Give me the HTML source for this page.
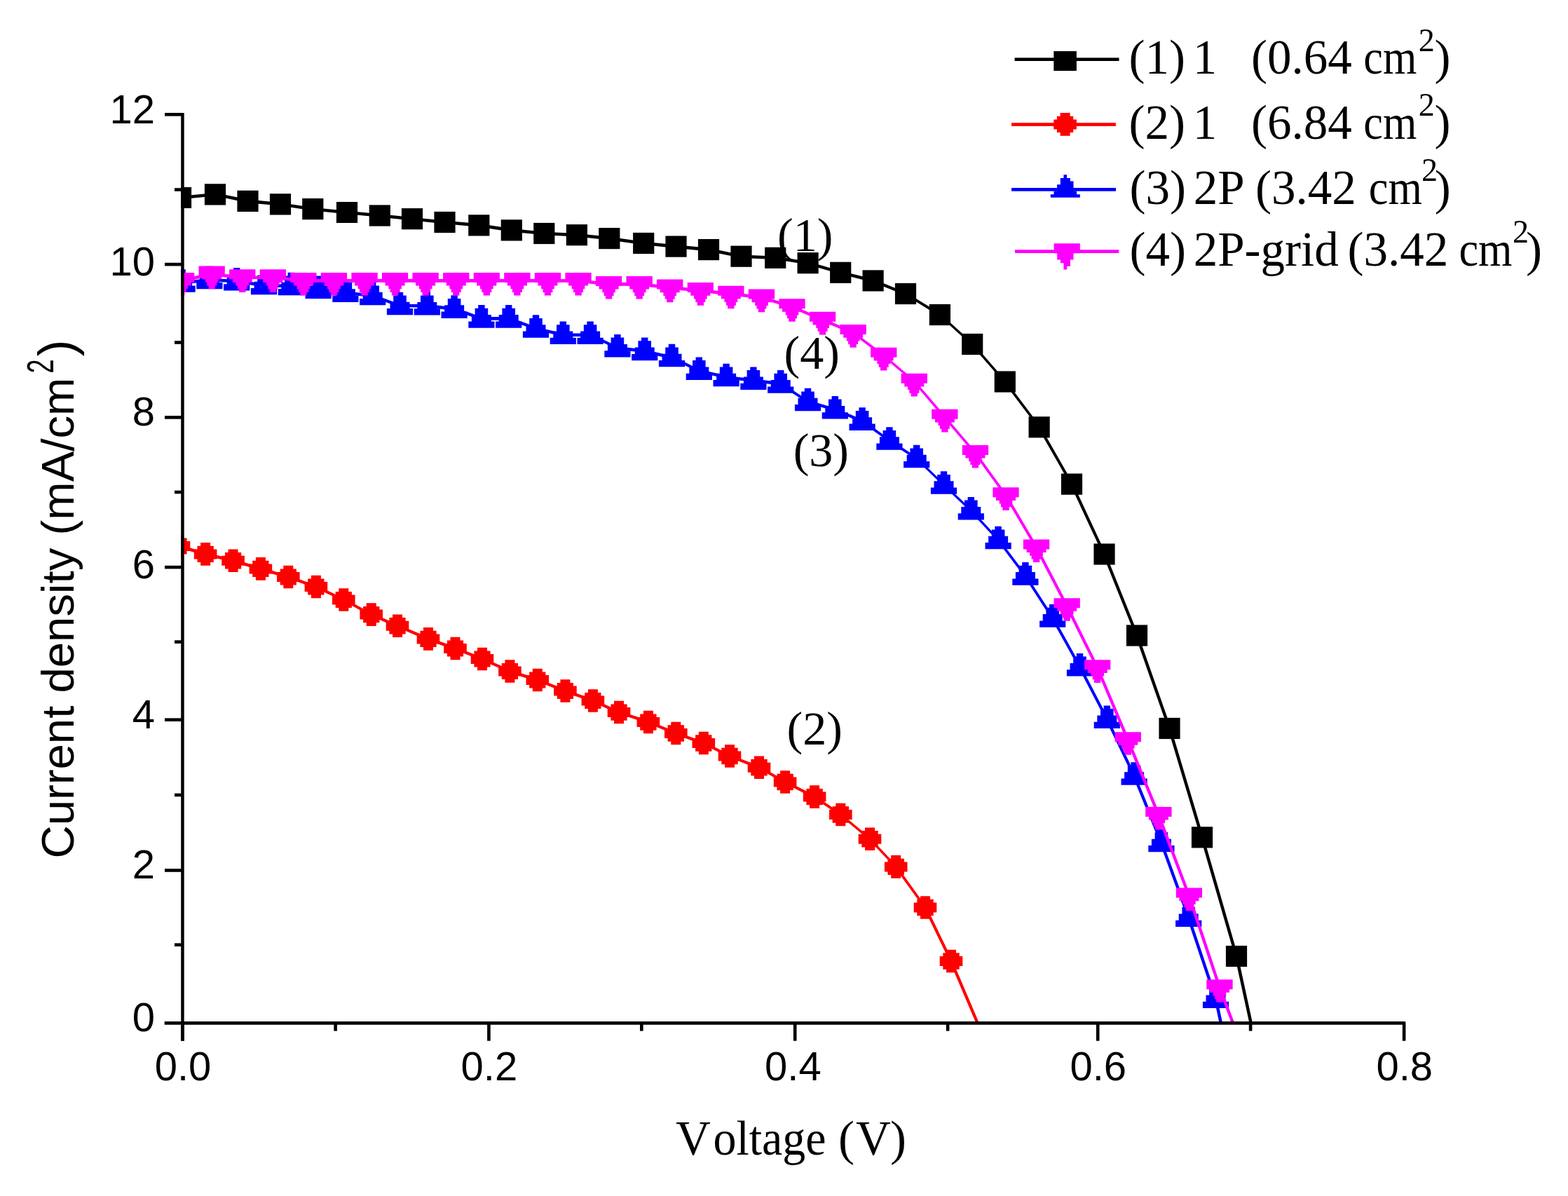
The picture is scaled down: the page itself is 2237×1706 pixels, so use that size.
<!DOCTYPE html>
<html><head><meta charset="utf-8"><title>J-V curves</title>
<style>html,body{margin:0;padding:0;background:#fff;}svg{display:block;}.ser{font-family:"Liberation Serif","Times New Roman",serif;}.san{font-family:"Liberation Sans",Arial,sans-serif;}</style>
</head><body>
<svg width="2237" height="1706" viewBox="0 0 2237 1706">
<rect width="2237" height="1706" fill="#fff"/>
<defs><clipPath id="pa"><rect x="258.2" y="150" width="1760" height="1309.4"/></clipPath></defs>
<g class="ser" font-size="68" fill="#000">
<text x="1109" y="357.9">(1)</text>
<text x="1118.6" y="525.7">(4)</text>
<text x="1131.7" y="665">(3)</text>
<text x="1122.6" y="1062">(2)</text>
</g>
<g clip-path="url(#pa)">
<path d="M258 279.7 307 275 307 279.6 258 284.3ZM307 275 353.5 284.6 353.5 289.2 307 279.6ZM353.5 284.6 400 289 400 293.6 353.5 289.2ZM400 289 446.3 295.9 446.3 300.5 400 293.6ZM446.3 295.9 495 300.7 495 305.3 446.3 300.5ZM495 300.7 541.8 305.2 541.8 309.8 495 305.3ZM541.8 305.2 588 309.9 588 314.5 541.8 309.8ZM588 309.9 634.5 314.7 634.5 319.3 588 314.5ZM634.5 314.7 683.3 319.1 683.3 323.7 634.5 319.3ZM683.3 319.1 729.8 326.1 729.8 330.7 683.3 323.7ZM729.8 326.1 776.3 330.7 776.3 335.3 729.8 330.7ZM776.3 330.7 822.9 332.9 822.9 337.5 776.3 335.3ZM822.9 332.9 869.3 337.8 869.3 342.4 822.9 337.5ZM869.3 337.8 918.2 344.7 918.2 349.3 869.3 342.4ZM918.2 344.7 964.5 349.3 964.5 353.9 918.2 349.3ZM964.5 349.3 1011 353.8 1011 358.4 964.5 353.9ZM1011 353.8 1057.5 363.4 1057.5 368 1011 358.4ZM1057.5 363.4 1106.2 365.5 1106.2 370.1 1057.5 368ZM1106.2 365.5 1152.6 372.9 1152.6 377.5 1106.2 370.1ZM1152.6 372.9 1199.2 386.5 1199.2 391.1 1152.6 377.5ZM1199.2 386.5 1245.6 398.1 1245.6 402.7 1199.2 391.1ZM1245.6 398.1 1292 416.7 1292 421.3 1245.6 402.7ZM1292 416.7 1340.9 446.7 1340.9 451.3 1292 421.3ZM1340.9 446.7 1387.2 488.7 1387.2 493.3 1340.9 451.3ZM1384.9 491 1431.5 544.5 1436.1 544.5 1389.5 491ZM1431.5 544.5 1480.3 609.3 1484.9 609.3 1436.1 544.5ZM1480.3 609.3 1526.7 690.6 1531.3 690.6 1484.9 609.3ZM1526.7 690.6 1573.2 790.5 1577.8 790.5 1531.3 690.6ZM1573.2 790.5 1619.7 906.5 1624.3 906.5 1577.8 790.5ZM1619.7 906.5 1666.2 1039 1670.8 1039 1624.3 906.5ZM1666.2 1039 1712.7 1194.4 1717.3 1194.4 1670.8 1039ZM1712.7 1194.4 1761.7 1364 1766.3 1364 1717.3 1194.4ZM1761.7 1364 1808.7 1580.7 1813.3 1580.7 1766.3 1364Z" fill="#000"/>
<g fill="#000"><polygon points="242.9,266.9 273.1,266.9 273.1,297.1 242.9,297.1"/><polygon points="291.9,262.2 322.1,262.2 322.1,292.4 291.9,292.4"/><polygon points="338.4,271.8 368.6,271.8 368.6,302 338.4,302"/><polygon points="384.9,276.2 415.1,276.2 415.1,306.4 384.9,306.4"/><polygon points="431.2,283.1 461.4,283.1 461.4,313.3 431.2,313.3"/><polygon points="479.9,287.9 510.1,287.9 510.1,318.1 479.9,318.1"/><polygon points="526.7,292.4 556.9,292.4 556.9,322.6 526.7,322.6"/><polygon points="572.9,297.1 603.1,297.1 603.1,327.3 572.9,327.3"/><polygon points="619.4,301.9 649.6,301.9 649.6,332.1 619.4,332.1"/><polygon points="668.2,306.3 698.4,306.3 698.4,336.5 668.2,336.5"/><polygon points="714.7,313.3 744.9,313.3 744.9,343.5 714.7,343.5"/><polygon points="761.2,317.9 791.4,317.9 791.4,348.1 761.2,348.1"/><polygon points="807.8,320.1 838,320.1 838,350.3 807.8,350.3"/><polygon points="854.2,325 884.4,325 884.4,355.2 854.2,355.2"/><polygon points="903.1,331.9 933.3,331.9 933.3,362.1 903.1,362.1"/><polygon points="949.4,336.5 979.6,336.5 979.6,366.7 949.4,366.7"/><polygon points="995.9,341 1026.1,341 1026.1,371.2 995.9,371.2"/><polygon points="1042.4,350.6 1072.6,350.6 1072.6,380.8 1042.4,380.8"/><polygon points="1091.1,352.7 1121.3,352.7 1121.3,382.9 1091.1,382.9"/><polygon points="1137.5,360.1 1167.7,360.1 1167.7,390.3 1137.5,390.3"/><polygon points="1184.1,373.7 1214.3,373.7 1214.3,403.9 1184.1,403.9"/><polygon points="1230.5,385.3 1260.7,385.3 1260.7,415.5 1230.5,415.5"/><polygon points="1276.9,403.9 1307.1,403.9 1307.1,434.1 1276.9,434.1"/><polygon points="1325.8,433.9 1356,433.9 1356,464.1 1325.8,464.1"/><polygon points="1372.1,475.9 1402.3,475.9 1402.3,506.1 1372.1,506.1"/><polygon points="1418.7,529.4 1448.9,529.4 1448.9,559.6 1418.7,559.6"/><polygon points="1467.5,594.2 1497.7,594.2 1497.7,624.4 1467.5,624.4"/><polygon points="1513.9,675.5 1544.1,675.5 1544.1,705.7 1513.9,705.7"/><polygon points="1560.4,775.4 1590.6,775.4 1590.6,805.6 1560.4,805.6"/><polygon points="1606.9,891.4 1637.1,891.4 1637.1,921.6 1606.9,921.6"/><polygon points="1653.4,1023.9 1683.6,1023.9 1683.6,1054.1 1653.4,1054.1"/><polygon points="1699.9,1179.3 1730.1,1179.3 1730.1,1209.5 1699.9,1209.5"/><polygon points="1748.9,1348.9 1779.1,1348.9 1779.1,1379.1 1748.9,1379.1"/></g>
<path d="M255 776.7 293.1 788.1 293.1 792.7 255 781.3ZM293.1 788.1 332.6 797.5 332.6 802.1 293.1 792.7ZM332.6 797.5 371.9 809.1 371.9 813.7 332.6 802.1ZM371.9 809.1 411.3 820.7 411.3 825.3 371.9 813.7ZM411.3 820.7 450.9 834.7 450.9 839.3 411.3 825.3ZM450.9 834.7 490.3 853.2 490.3 857.8 450.9 839.3ZM490.3 853.2 529.7 874.3 529.7 878.9 490.3 857.8ZM529.7 874.3 567 890.4 567 895 529.7 878.9ZM567 890.4 611 909.1 611 913.7 567 895ZM611 909.1 649.5 922.7 649.5 927.3 611 913.7ZM649.5 922.7 688 937.7 688 942.3 649.5 927.3ZM688 937.7 727.4 955.2 727.4 959.8 688 942.3ZM727.4 955.2 766.8 967.7 766.8 972.3 727.4 959.8ZM766.8 967.7 806.4 983.2 806.4 987.8 766.8 972.3ZM806.4 983.2 845.9 997.2 845.9 1001.8 806.4 987.8ZM845.9 997.2 883 1013.7 883 1018.3 845.9 1001.8ZM883 1013.7 924.9 1027.7 924.9 1032.3 883 1018.3ZM924.9 1027.7 964.3 1043.7 964.3 1048.3 924.9 1032.3ZM964.3 1043.7 1003.8 1057.7 1003.8 1062.3 964.3 1048.3ZM1003.8 1057.7 1041 1076.2 1041 1080.8 1003.8 1062.3ZM1041 1076.2 1083 1092.5 1083 1097.1 1041 1080.8ZM1083 1092.5 1120.1 1113.2 1120.1 1117.8 1083 1097.1ZM1120.1 1113.2 1162.1 1134.3 1162.1 1138.9 1120.1 1117.8ZM1162.1 1134.3 1199.3 1159.7 1199.3 1164.3 1162.1 1138.9ZM1199.3 1159.7 1241 1194.5 1241 1199.1 1199.3 1164.3ZM1238.7 1196.8 1275.9 1236.4 1280.5 1236.4 1243.3 1196.8ZM1275.9 1236.4 1317.7 1294.5 1322.3 1294.5 1280.5 1236.4ZM1317.7 1294.5 1354.7 1371 1359.3 1371 1322.3 1294.5ZM1354.7 1371 1394.1 1463.5 1398.7 1463.5 1359.3 1371Z" fill="#f00"/>
<g fill="#f00"><polygon points="248,762.7 262,762.7 262,767.4 266.6,767.4 266.6,772 271.3,772 271.3,786 266.6,786 266.6,790.6 262,790.6 262,795.3 248,795.3 248,790.6 243.3,790.6 243.3,786 238.7,786 238.7,772 243.3,772 243.3,767.4 248,767.4"/><polygon points="286.1,774.1 300.1,774.1 300.1,778.8 304.8,778.8 304.8,783.4 309.4,783.4 309.4,797.4 304.8,797.4 304.8,802 300.1,802 300.1,806.7 286.1,806.7 286.1,802 281.5,802 281.5,797.4 276.8,797.4 276.8,783.4 281.5,783.4 281.5,778.8 286.1,778.8"/><polygon points="325.6,783.5 339.6,783.5 339.6,788.1 344.2,788.1 344.2,792.8 348.9,792.8 348.9,806.8 344.2,806.8 344.2,811.4 339.6,811.4 339.6,816.1 325.6,816.1 325.6,811.4 321,811.4 321,806.8 316.3,806.8 316.3,792.8 321,792.8 321,788.1 325.6,788.1"/><polygon points="364.9,795.1 378.9,795.1 378.9,799.8 383.5,799.8 383.5,804.4 388.2,804.4 388.2,818.4 383.5,818.4 383.5,823 378.9,823 378.9,827.7 364.9,827.7 364.9,823 360.2,823 360.2,818.4 355.6,818.4 355.6,804.4 360.2,804.4 360.2,799.8 364.9,799.8"/><polygon points="404.3,806.7 418.3,806.7 418.3,811.4 422.9,811.4 422.9,816 427.6,816 427.6,830 422.9,830 422.9,834.6 418.3,834.6 418.3,839.3 404.3,839.3 404.3,834.6 399.7,834.6 399.7,830 395,830 395,816 399.7,816 399.7,811.4 404.3,811.4"/><polygon points="443.9,820.7 457.9,820.7 457.9,825.4 462.5,825.4 462.5,830 467.2,830 467.2,844 462.5,844 462.5,848.6 457.9,848.6 457.9,853.3 443.9,853.3 443.9,848.6 439.2,848.6 439.2,844 434.6,844 434.6,830 439.2,830 439.2,825.4 443.9,825.4"/><polygon points="483.3,839.2 497.3,839.2 497.3,843.9 501.9,843.9 501.9,848.5 506.6,848.5 506.6,862.5 501.9,862.5 501.9,867.1 497.3,867.1 497.3,871.8 483.3,871.8 483.3,867.1 478.7,867.1 478.7,862.5 474,862.5 474,848.5 478.7,848.5 478.7,843.9 483.3,843.9"/><polygon points="522.7,860.3 536.7,860.3 536.7,865 541.4,865 541.4,869.6 546,869.6 546,883.6 541.4,883.6 541.4,888.2 536.7,888.2 536.7,892.9 522.7,892.9 522.7,888.2 518.1,888.2 518.1,883.6 513.4,883.6 513.4,869.6 518.1,869.6 518.1,865 522.7,865"/><polygon points="560,876.4 574,876.4 574,881.1 578.6,881.1 578.6,885.7 583.3,885.7 583.3,899.7 578.6,899.7 578.6,904.4 574,904.4 574,909 560,909 560,904.4 555.4,904.4 555.4,899.7 550.7,899.7 550.7,885.7 555.4,885.7 555.4,881.1 560,881.1"/><polygon points="604,895.1 618,895.1 618,899.8 622.6,899.8 622.6,904.4 627.3,904.4 627.3,918.4 622.6,918.4 622.6,923 618,923 618,927.7 604,927.7 604,923 599.4,923 599.4,918.4 594.7,918.4 594.7,904.4 599.4,904.4 599.4,899.8 604,899.8"/><polygon points="642.5,908.7 656.5,908.7 656.5,913.4 661.1,913.4 661.1,918 665.8,918 665.8,932 661.1,932 661.1,936.6 656.5,936.6 656.5,941.3 642.5,941.3 642.5,936.6 637.9,936.6 637.9,932 633.2,932 633.2,918 637.9,918 637.9,913.4 642.5,913.4"/><polygon points="681,923.7 695,923.7 695,928.4 699.6,928.4 699.6,933 704.3,933 704.3,947 699.6,947 699.6,951.6 695,951.6 695,956.3 681,956.3 681,951.6 676.4,951.6 676.4,947 671.7,947 671.7,933 676.4,933 676.4,928.4 681,928.4"/><polygon points="720.4,941.2 734.4,941.2 734.4,945.9 739,945.9 739,950.5 743.7,950.5 743.7,964.5 739,964.5 739,969.1 734.4,969.1 734.4,973.8 720.4,973.8 720.4,969.1 715.8,969.1 715.8,964.5 711.1,964.5 711.1,950.5 715.8,950.5 715.8,945.9 720.4,945.9"/><polygon points="759.8,953.7 773.8,953.7 773.8,958.4 778.4,958.4 778.4,963 783.1,963 783.1,977 778.4,977 778.4,981.6 773.8,981.6 773.8,986.3 759.8,986.3 759.8,981.6 755.1,981.6 755.1,977 750.5,977 750.5,963 755.1,963 755.1,958.4 759.8,958.4"/><polygon points="799.4,969.2 813.4,969.2 813.4,973.9 818,973.9 818,978.5 822.7,978.5 822.7,992.5 818,992.5 818,997.1 813.4,997.1 813.4,1001.8 799.4,1001.8 799.4,997.1 794.8,997.1 794.8,992.5 790.1,992.5 790.1,978.5 794.8,978.5 794.8,973.9 799.4,973.9"/><polygon points="838.9,983.2 852.9,983.2 852.9,987.9 857.5,987.9 857.5,992.5 862.2,992.5 862.2,1006.5 857.5,1006.5 857.5,1011.1 852.9,1011.1 852.9,1015.8 838.9,1015.8 838.9,1011.1 834.2,1011.1 834.2,1006.5 829.6,1006.5 829.6,992.5 834.2,992.5 834.2,987.9 838.9,987.9"/><polygon points="876,999.7 890,999.7 890,1004.4 894.6,1004.4 894.6,1009 899.3,1009 899.3,1023 894.6,1023 894.6,1027.7 890,1027.7 890,1032.3 876,1032.3 876,1027.7 871.4,1027.7 871.4,1023 866.7,1023 866.7,1009 871.4,1009 871.4,1004.4 876,1004.4"/><polygon points="917.9,1013.7 931.9,1013.7 931.9,1018.4 936.5,1018.4 936.5,1023 941.2,1023 941.2,1037 936.5,1037 936.5,1041.7 931.9,1041.7 931.9,1046.3 917.9,1046.3 917.9,1041.7 913.2,1041.7 913.2,1037 908.6,1037 908.6,1023 913.2,1023 913.2,1018.4 917.9,1018.4"/><polygon points="957.3,1029.7 971.3,1029.7 971.3,1034.3 975.9,1034.3 975.9,1039 980.6,1039 980.6,1053 975.9,1053 975.9,1057.7 971.3,1057.7 971.3,1062.3 957.3,1062.3 957.3,1057.7 952.6,1057.7 952.6,1053 948,1053 948,1039 952.6,1039 952.6,1034.3 957.3,1034.3"/><polygon points="996.8,1043.7 1010.8,1043.7 1010.8,1048.3 1015.4,1048.3 1015.4,1053 1020.1,1053 1020.1,1067 1015.4,1067 1015.4,1071.7 1010.8,1071.7 1010.8,1076.3 996.8,1076.3 996.8,1071.7 992.1,1071.7 992.1,1067 987.5,1067 987.5,1053 992.1,1053 992.1,1048.3 996.8,1048.3"/><polygon points="1034,1062.2 1048,1062.2 1048,1066.8 1052.7,1066.8 1052.7,1071.5 1057.3,1071.5 1057.3,1085.5 1052.7,1085.5 1052.7,1090.2 1048,1090.2 1048,1094.8 1034,1094.8 1034,1090.2 1029.3,1090.2 1029.3,1085.5 1024.7,1085.5 1024.7,1071.5 1029.3,1071.5 1029.3,1066.8 1034,1066.8"/><polygon points="1076,1078.5 1090,1078.5 1090,1083.1 1094.7,1083.1 1094.7,1087.8 1099.3,1087.8 1099.3,1101.8 1094.7,1101.8 1094.7,1106.5 1090,1106.5 1090,1111.1 1076,1111.1 1076,1106.5 1071.3,1106.5 1071.3,1101.8 1066.7,1101.8 1066.7,1087.8 1071.3,1087.8 1071.3,1083.1 1076,1083.1"/><polygon points="1113.1,1099.2 1127.1,1099.2 1127.1,1103.8 1131.8,1103.8 1131.8,1108.5 1136.4,1108.5 1136.4,1122.5 1131.8,1122.5 1131.8,1127.2 1127.1,1127.2 1127.1,1131.8 1113.1,1131.8 1113.1,1127.2 1108.4,1127.2 1108.4,1122.5 1103.8,1122.5 1103.8,1108.5 1108.4,1108.5 1108.4,1103.8 1113.1,1103.8"/><polygon points="1155.1,1120.3 1169.1,1120.3 1169.1,1124.9 1173.8,1124.9 1173.8,1129.6 1178.4,1129.6 1178.4,1143.6 1173.8,1143.6 1173.8,1148.2 1169.1,1148.2 1169.1,1152.9 1155.1,1152.9 1155.1,1148.2 1150.4,1148.2 1150.4,1143.6 1145.8,1143.6 1145.8,1129.6 1150.4,1129.6 1150.4,1124.9 1155.1,1124.9"/><polygon points="1192.3,1145.7 1206.3,1145.7 1206.3,1150.3 1211,1150.3 1211,1155 1215.6,1155 1215.6,1169 1211,1169 1211,1173.7 1206.3,1173.7 1206.3,1178.3 1192.3,1178.3 1192.3,1173.7 1187.6,1173.7 1187.6,1169 1183,1169 1183,1155 1187.6,1155 1187.6,1150.3 1192.3,1150.3"/><polygon points="1234,1180.5 1248,1180.5 1248,1185.1 1252.7,1185.1 1252.7,1189.8 1257.3,1189.8 1257.3,1203.8 1252.7,1203.8 1252.7,1208.5 1248,1208.5 1248,1213.1 1234,1213.1 1234,1208.5 1229.3,1208.5 1229.3,1203.8 1224.7,1203.8 1224.7,1189.8 1229.3,1189.8 1229.3,1185.1 1234,1185.1"/><polygon points="1271.2,1220.1 1285.2,1220.1 1285.2,1224.8 1289.9,1224.8 1289.9,1229.4 1294.5,1229.4 1294.5,1243.4 1289.9,1243.4 1289.9,1248.1 1285.2,1248.1 1285.2,1252.7 1271.2,1252.7 1271.2,1248.1 1266.5,1248.1 1266.5,1243.4 1261.9,1243.4 1261.9,1229.4 1266.5,1229.4 1266.5,1224.8 1271.2,1224.8"/><polygon points="1313,1278.2 1327,1278.2 1327,1282.8 1331.7,1282.8 1331.7,1287.5 1336.3,1287.5 1336.3,1301.5 1331.7,1301.5 1331.7,1306.2 1327,1306.2 1327,1310.8 1313,1310.8 1313,1306.2 1308.3,1306.2 1308.3,1301.5 1303.7,1301.5 1303.7,1287.5 1308.3,1287.5 1308.3,1282.8 1313,1282.8"/><polygon points="1350,1354.7 1364,1354.7 1364,1359.3 1368.7,1359.3 1368.7,1364 1373.3,1364 1373.3,1378 1368.7,1378 1368.7,1382.7 1364,1382.7 1364,1387.3 1350,1387.3 1350,1382.7 1345.3,1382.7 1345.3,1378 1340.7,1378 1340.7,1364 1345.3,1364 1345.3,1359.3 1350,1359.3"/></g>
<path d="M260.1 401.2 298.9 396.7 298.9 401.3 260.1 405.8ZM298.9 396.7 337.7 398.9 337.7 403.5 298.9 401.3ZM337.7 398.9 376.5 404.7 376.5 409.3 337.7 403.5ZM376.5 404.7 415.3 405.7 415.3 410.3 376.5 409.3ZM415.3 405.7 454.1 410.5 454.1 415.1 415.3 410.3ZM454.1 410.5 492.9 415.3 492.9 419.9 454.1 415.1ZM492.9 415.3 531.7 419.7 531.7 424.3 492.9 419.9ZM531.7 419.7 570.5 433.7 570.5 438.3 531.7 424.3ZM570.5 433.7 609.3 433.9 609.3 438.5 570.5 438.3ZM609.3 433.9 648.1 438.3 648.1 442.9 609.3 438.5ZM648.1 438.3 686.9 452.1 686.9 456.7 648.1 442.9ZM686.9 452.1 725.7 452.1 725.7 456.7 686.9 456.7ZM725.7 452.1 764.5 466.2 764.5 470.8 725.7 456.7ZM764.5 466.2 803.3 475.5 803.3 480.1 764.5 470.8ZM803.3 475.5 842.1 475.5 842.1 480.1 803.3 480.1ZM842.1 475.5 880.9 493.9 880.9 498.5 842.1 480.1ZM880.9 493.9 919.7 498.6 919.7 503.2 880.9 498.5ZM919.7 498.6 958.5 507.7 958.5 512.3 919.7 503.2ZM958.5 507.7 997.3 526.5 997.3 531.1 958.5 512.3ZM997.3 526.5 1036.1 535.7 1036.1 540.3 997.3 531.1ZM1036.1 535.7 1074.9 540.4 1074.9 545 1036.1 540.3ZM1074.9 540.4 1113.7 545.1 1113.7 549.7 1074.9 545ZM1113.7 545.1 1152.5 570.7 1152.5 575.3 1113.7 549.7ZM1152.5 570.7 1191.3 582 1191.3 586.6 1152.5 575.3ZM1191.3 582 1230.1 598.3 1230.1 602.9 1191.3 586.6ZM1230.1 598.3 1268.9 626.2 1268.9 630.8 1230.1 602.9ZM1268.9 626.2 1307.7 651.7 1307.7 656.3 1268.9 630.8ZM1307.7 651.7 1346.5 689.2 1346.5 693.8 1307.7 656.3ZM1346.5 689.2 1385.3 726 1385.3 730.6 1346.5 693.8ZM1383 728.3 1421.8 770 1426.4 770 1387.6 728.3ZM1421.8 770 1460.6 821.4 1465.2 821.4 1426.4 770ZM1460.6 821.4 1499.4 881.4 1504 881.4 1465.2 821.4ZM1499.4 881.4 1538.2 951.2 1542.8 951.2 1504 881.4ZM1538.2 951.2 1577 1025.8 1581.6 1025.8 1542.8 951.2ZM1577 1025.8 1615.8 1106.5 1620.4 1106.5 1581.6 1025.8ZM1615.8 1106.5 1654.6 1202 1659.2 1202 1620.4 1106.5ZM1654.6 1202 1693.4 1308.7 1698 1308.7 1659.2 1202ZM1693.4 1308.7 1732.2 1424.8 1736.8 1424.8 1698 1308.7ZM1732.2 1424.8 1771 1607 1775.6 1607 1736.8 1424.8Z" fill="#00f"/>
<g fill="#00f"><polygon points="255.4,384.2 264.8,384.2 264.8,388.9 269.4,388.9 269.4,398.2 274.1,398.2 274.1,407.5 278.7,407.5 278.7,416.8 241.5,416.8 241.5,407.5 246.1,407.5 246.1,398.2 250.8,398.2 250.8,388.9 255.4,388.9"/><polygon points="294.2,379.7 303.6,379.7 303.6,384.4 308.2,384.4 308.2,393.7 312.9,393.7 312.9,403 317.5,403 317.5,412.3 280.3,412.3 280.3,403 284.9,403 284.9,393.7 289.6,393.7 289.6,384.4 294.2,384.4"/><polygon points="333,381.9 342.4,381.9 342.4,386.6 347,386.6 347,395.9 351.7,395.9 351.7,405.2 356.3,405.2 356.3,414.5 319.1,414.5 319.1,405.2 323.7,405.2 323.7,395.9 328.4,395.9 328.4,386.6 333,386.6"/><polygon points="371.8,387.7 381.2,387.7 381.2,392.4 385.8,392.4 385.8,401.7 390.5,401.7 390.5,411 395.1,411 395.1,420.3 357.9,420.3 357.9,411 362.5,411 362.5,401.7 367.2,401.7 367.2,392.4 371.8,392.4"/><polygon points="410.6,388.7 420,388.7 420,393.4 424.6,393.4 424.6,402.7 429.3,402.7 429.3,412 433.9,412 433.9,421.3 396.7,421.3 396.7,412 401.3,412 401.3,402.7 406,402.7 406,393.4 410.6,393.4"/><polygon points="449.4,393.5 458.8,393.5 458.8,398.2 463.4,398.2 463.4,407.5 468.1,407.5 468.1,416.8 472.7,416.8 472.7,426.1 435.5,426.1 435.5,416.8 440.1,416.8 440.1,407.5 444.8,407.5 444.8,398.2 449.4,398.2"/><polygon points="488.2,398.3 497.6,398.3 497.6,403 502.2,403 502.2,412.3 506.9,412.3 506.9,421.6 511.5,421.6 511.5,430.9 474.3,430.9 474.3,421.6 478.9,421.6 478.9,412.3 483.6,412.3 483.6,403 488.2,403"/><polygon points="527,402.7 536.4,402.7 536.4,407.4 541,407.4 541,416.7 545.7,416.7 545.7,426 550.3,426 550.3,435.3 513.1,435.3 513.1,426 517.7,426 517.7,416.7 522.4,416.7 522.4,407.4 527,407.4"/><polygon points="565.8,416.7 575.2,416.7 575.2,421.4 579.8,421.4 579.8,430.7 584.5,430.7 584.5,440 589.1,440 589.1,449.3 551.9,449.3 551.9,440 556.5,440 556.5,430.7 561.2,430.7 561.2,421.4 565.8,421.4"/><polygon points="604.6,416.9 614,416.9 614,421.6 618.6,421.6 618.6,430.9 623.3,430.9 623.3,440.2 627.9,440.2 627.9,449.5 590.7,449.5 590.7,440.2 595.3,440.2 595.3,430.9 600,430.9 600,421.6 604.6,421.6"/><polygon points="643.4,421.3 652.8,421.3 652.8,426 657.4,426 657.4,435.3 662.1,435.3 662.1,444.6 666.7,444.6 666.7,453.9 629.5,453.9 629.5,444.6 634.1,444.6 634.1,435.3 638.8,435.3 638.8,426 643.4,426"/><polygon points="682.2,435.1 691.6,435.1 691.6,439.8 696.2,439.8 696.2,449.1 700.9,449.1 700.9,458.4 705.5,458.4 705.5,467.7 668.3,467.7 668.3,458.4 672.9,458.4 672.9,449.1 677.6,449.1 677.6,439.8 682.2,439.8"/><polygon points="721,435.1 730.4,435.1 730.4,439.8 735,439.8 735,449.1 739.7,449.1 739.7,458.4 744.3,458.4 744.3,467.7 707.1,467.7 707.1,458.4 711.7,458.4 711.7,449.1 716.4,449.1 716.4,439.8 721,439.8"/><polygon points="759.8,449.2 769.2,449.2 769.2,453.9 773.8,453.9 773.8,463.2 778.5,463.2 778.5,472.5 783.1,472.5 783.1,481.8 745.9,481.8 745.9,472.5 750.5,472.5 750.5,463.2 755.2,463.2 755.2,453.9 759.8,453.9"/><polygon points="798.6,458.5 808,458.5 808,463.2 812.6,463.2 812.6,472.5 817.3,472.5 817.3,481.8 821.9,481.8 821.9,491.1 784.7,491.1 784.7,481.8 789.3,481.8 789.3,472.5 794,472.5 794,463.2 798.6,463.2"/><polygon points="837.4,458.5 846.8,458.5 846.8,463.2 851.4,463.2 851.4,472.5 856.1,472.5 856.1,481.8 860.7,481.8 860.7,491.1 823.5,491.1 823.5,481.8 828.1,481.8 828.1,472.5 832.8,472.5 832.8,463.2 837.4,463.2"/><polygon points="876.2,476.9 885.6,476.9 885.6,481.6 890.2,481.6 890.2,490.9 894.9,490.9 894.9,500.2 899.5,500.2 899.5,509.5 862.3,509.5 862.3,500.2 866.9,500.2 866.9,490.9 871.6,490.9 871.6,481.6 876.2,481.6"/><polygon points="915,481.6 924.4,481.6 924.4,486.2 929,486.2 929,495.6 933.7,495.6 933.7,504.9 938.3,504.9 938.3,514.2 901.1,514.2 901.1,504.9 905.7,504.9 905.7,495.6 910.4,495.6 910.4,486.2 915,486.2"/><polygon points="953.8,490.7 963.2,490.7 963.2,495.4 967.8,495.4 967.8,504.7 972.5,504.7 972.5,514 977.1,514 977.1,523.3 939.9,523.3 939.9,514 944.5,514 944.5,504.7 949.2,504.7 949.2,495.4 953.8,495.4"/><polygon points="992.6,509.5 1002,509.5 1002,514.1 1006.6,514.1 1006.6,523.5 1011.3,523.5 1011.3,532.8 1015.9,532.8 1015.9,542.1 978.7,542.1 978.7,532.8 983.3,532.8 983.3,523.5 988,523.5 988,514.1 992.6,514.1"/><polygon points="1031.4,518.7 1040.8,518.7 1040.8,523.4 1045.4,523.4 1045.4,532.7 1050.1,532.7 1050.1,542 1054.7,542 1054.7,551.3 1017.5,551.3 1017.5,542 1022.1,542 1022.1,532.7 1026.8,532.7 1026.8,523.4 1031.4,523.4"/><polygon points="1070.2,523.4 1079.6,523.4 1079.6,528.1 1084.2,528.1 1084.2,537.4 1088.9,537.4 1088.9,546.7 1093.5,546.7 1093.5,556 1056.3,556 1056.3,546.7 1060.9,546.7 1060.9,537.4 1065.6,537.4 1065.6,528.1 1070.2,528.1"/><polygon points="1109,528.1 1118.4,528.1 1118.4,532.8 1123,532.8 1123,542.1 1127.7,542.1 1127.7,551.4 1132.3,551.4 1132.3,560.7 1095.1,560.7 1095.1,551.4 1099.7,551.4 1099.7,542.1 1104.4,542.1 1104.4,532.8 1109,532.8"/><polygon points="1147.8,553.7 1157.2,553.7 1157.2,558.4 1161.8,558.4 1161.8,567.7 1166.5,567.7 1166.5,577 1171.1,577 1171.1,586.3 1133.9,586.3 1133.9,577 1138.5,577 1138.5,567.7 1143.2,567.7 1143.2,558.4 1147.8,558.4"/><polygon points="1186.6,565 1196,565 1196,569.6 1200.6,569.6 1200.6,579 1205.3,579 1205.3,588.3 1209.9,588.3 1209.9,597.6 1172.7,597.6 1172.7,588.3 1177.3,588.3 1177.3,579 1182,579 1182,569.6 1186.6,569.6"/><polygon points="1225.4,581.3 1234.8,581.3 1234.8,586 1239.4,586 1239.4,595.3 1244.1,595.3 1244.1,604.6 1248.7,604.6 1248.7,613.9 1211.5,613.9 1211.5,604.6 1216.1,604.6 1216.1,595.3 1220.8,595.3 1220.8,586 1225.4,586"/><polygon points="1264.2,609.2 1273.6,609.2 1273.6,613.9 1278.2,613.9 1278.2,623.2 1282.9,623.2 1282.9,632.5 1287.5,632.5 1287.5,641.8 1250.3,641.8 1250.3,632.5 1254.9,632.5 1254.9,623.2 1259.6,623.2 1259.6,613.9 1264.2,613.9"/><polygon points="1303,634.7 1312.4,634.7 1312.4,639.4 1317,639.4 1317,648.7 1321.7,648.7 1321.7,658 1326.3,658 1326.3,667.3 1289.1,667.3 1289.1,658 1293.7,658 1293.7,648.7 1298.4,648.7 1298.4,639.4 1303,639.4"/><polygon points="1341.8,672.2 1351.2,672.2 1351.2,676.9 1355.8,676.9 1355.8,686.2 1360.5,686.2 1360.5,695.5 1365.1,695.5 1365.1,704.8 1327.9,704.8 1327.9,695.5 1332.5,695.5 1332.5,686.2 1337.2,686.2 1337.2,676.9 1341.8,676.9"/><polygon points="1380.6,709 1390,709 1390,713.6 1394.6,713.6 1394.6,723 1399.3,723 1399.3,732.3 1403.9,732.3 1403.9,741.6 1366.7,741.6 1366.7,732.3 1371.3,732.3 1371.3,723 1376,723 1376,713.6 1380.6,713.6"/><polygon points="1419.4,750.7 1428.8,750.7 1428.8,755.4 1433.4,755.4 1433.4,764.7 1438.1,764.7 1438.1,774 1442.7,774 1442.7,783.3 1405.5,783.3 1405.5,774 1410.1,774 1410.1,764.7 1414.8,764.7 1414.8,755.4 1419.4,755.4"/><polygon points="1458.2,802.1 1467.6,802.1 1467.6,806.8 1472.2,806.8 1472.2,816.1 1476.9,816.1 1476.9,825.4 1481.5,825.4 1481.5,834.7 1444.3,834.7 1444.3,825.4 1448.9,825.4 1448.9,816.1 1453.6,816.1 1453.6,806.8 1458.2,806.8"/><polygon points="1497,862.1 1506.4,862.1 1506.4,866.8 1511,866.8 1511,876.1 1515.7,876.1 1515.7,885.4 1520.3,885.4 1520.3,894.7 1483.1,894.7 1483.1,885.4 1487.7,885.4 1487.7,876.1 1492.4,876.1 1492.4,866.8 1497,866.8"/><polygon points="1535.8,931.9 1545.2,931.9 1545.2,936.6 1549.8,936.6 1549.8,945.9 1554.5,945.9 1554.5,955.2 1559.1,955.2 1559.1,964.5 1521.9,964.5 1521.9,955.2 1526.5,955.2 1526.5,945.9 1531.2,945.9 1531.2,936.6 1535.8,936.6"/><polygon points="1574.6,1006.5 1584,1006.5 1584,1011.1 1588.6,1011.1 1588.6,1020.5 1593.3,1020.5 1593.3,1029.8 1597.9,1029.8 1597.9,1039.1 1560.7,1039.1 1560.7,1029.8 1565.3,1029.8 1565.3,1020.5 1570,1020.5 1570,1011.1 1574.6,1011.1"/><polygon points="1613.4,1087.2 1622.8,1087.2 1622.8,1091.8 1627.4,1091.8 1627.4,1101.2 1632.1,1101.2 1632.1,1110.5 1636.7,1110.5 1636.7,1119.8 1599.5,1119.8 1599.5,1110.5 1604.1,1110.5 1604.1,1101.2 1608.8,1101.2 1608.8,1091.8 1613.4,1091.8"/><polygon points="1652.2,1182.7 1661.6,1182.7 1661.6,1187.3 1666.2,1187.3 1666.2,1196.7 1670.9,1196.7 1670.9,1206 1675.5,1206 1675.5,1215.3 1638.3,1215.3 1638.3,1206 1642.9,1206 1642.9,1196.7 1647.6,1196.7 1647.6,1187.3 1652.2,1187.3"/><polygon points="1691,1289.4 1700.4,1289.4 1700.4,1294 1705,1294 1705,1303.4 1709.7,1303.4 1709.7,1312.7 1714.3,1312.7 1714.3,1322 1677.1,1322 1677.1,1312.7 1681.7,1312.7 1681.7,1303.4 1686.4,1303.4 1686.4,1294 1691,1294"/><polygon points="1729.8,1405.5 1739.2,1405.5 1739.2,1410.1 1743.8,1410.1 1743.8,1419.5 1748.5,1419.5 1748.5,1428.8 1753.1,1428.8 1753.1,1438.1 1715.9,1438.1 1715.9,1428.8 1720.5,1428.8 1720.5,1419.5 1725.2,1419.5 1725.2,1410.1 1729.8,1410.1"/></g>
<path d="M258.6 398.1 302.2 388.8 302.2 393.4 258.6 402.7ZM302.2 388.8 345.7 393.5 345.7 398.1 302.2 393.4ZM345.7 393.5 389.3 393.5 389.3 398.1 345.7 398.1ZM389.3 393.5 432.9 398.1 432.9 402.7 389.3 398.1ZM432.9 398.1 476.5 398.1 476.5 402.7 432.9 402.7ZM476.5 398.1 520 398.1 520 402.7 476.5 402.7ZM520 398.1 563.6 398.1 563.6 402.7 520 402.7ZM563.6 398.1 607.2 398.1 607.2 402.7 563.6 402.7ZM607.2 398.1 650.7 398.1 650.7 402.7 607.2 402.7ZM650.7 398.1 694.3 398.1 694.3 402.7 650.7 402.7ZM694.3 398.1 737.9 398.1 737.9 402.7 694.3 402.7ZM737.9 398.1 781.4 398.1 781.4 402.7 737.9 402.7ZM781.4 398.1 825 398.2 825 402.8 781.4 402.7ZM825 398.2 868.6 403.1 868.6 407.7 825 402.8ZM868.6 403.1 912.1 403.1 912.1 407.7 868.6 407.7ZM912.1 403.1 955.7 407.8 955.7 412.4 912.1 407.7ZM955.7 407.8 999.3 412.3 999.3 416.9 955.7 412.4ZM999.3 412.3 1042.9 416.9 1042.9 421.5 999.3 416.9ZM1042.9 416.9 1086.4 421.8 1086.4 426.4 1042.9 421.5ZM1086.4 421.8 1130 435.4 1130 440 1086.4 426.4ZM1130 435.4 1173.6 454 1173.6 458.6 1130 440ZM1173.6 454 1217.1 472.3 1217.1 476.9 1173.6 458.6ZM1217.1 472.3 1260.7 505 1260.7 509.6 1217.1 476.9ZM1260.7 505 1304.3 542 1304.3 546.6 1260.7 509.6ZM1302 544.3 1345.5 595.3 1350.2 595.3 1306.6 544.3ZM1345.5 595.3 1389.1 646.5 1393.8 646.5 1350.2 595.3ZM1389.1 646.5 1432.7 706.8 1437.3 706.8 1393.8 646.5ZM1432.7 706.8 1476.2 780.9 1480.9 780.9 1437.3 706.8ZM1476.2 780.9 1519.8 864.7 1524.5 864.7 1480.9 780.9ZM1519.8 864.7 1563.4 952.8 1568 952.8 1524.5 864.7ZM1563.4 952.8 1606.9 1055.7 1611.6 1055.7 1568 952.8ZM1606.9 1055.7 1650.5 1162.5 1655.2 1162.5 1611.6 1055.7ZM1650.5 1162.5 1694.1 1278.1 1698.7 1278.1 1655.2 1162.5ZM1694.1 1278.1 1737.7 1408.7 1742.3 1408.7 1698.7 1278.1ZM1737.7 1408.7 1781.2 1525 1785.9 1525 1742.3 1408.7Z" fill="#f0f"/>
<g fill="#f0f"><polygon points="240,388.9 277.2,388.9 277.2,402.9 272.6,402.9 272.6,407.5 267.9,407.5 267.9,412.2 265.6,412.2 265.6,416.9 263.3,416.9 263.3,421.5 253.9,421.5 253.9,416.9 251.6,416.9 251.6,412.2 249.3,412.2 249.3,407.5 244.6,407.5 244.6,402.9 240,402.9"/><polygon points="283.5,379.6 320.8,379.6 320.8,393.6 316.2,393.6 316.2,398.2 311.5,398.2 311.5,402.9 309.2,402.9 309.2,407.6 306.8,407.6 306.8,412.2 297.5,412.2 297.5,407.6 295.2,407.6 295.2,402.9 292.9,402.9 292.9,398.2 288.2,398.2 288.2,393.6 283.5,393.6"/><polygon points="327.1,384.3 364.4,384.3 364.4,398.3 359.7,398.3 359.7,402.9 355.1,402.9 355.1,407.6 352.7,407.6 352.7,412.3 350.4,412.3 350.4,416.9 341.1,416.9 341.1,412.3 338.8,412.3 338.8,407.6 336.4,407.6 336.4,402.9 331.8,402.9 331.8,398.3 327.1,398.3"/><polygon points="370.7,384.3 408,384.3 408,398.3 403.3,398.3 403.3,402.9 398.6,402.9 398.6,407.6 396.3,407.6 396.3,412.3 394,412.3 394,416.9 384.7,416.9 384.7,412.3 382.3,412.3 382.3,407.6 380,407.6 380,402.9 375.3,402.9 375.3,398.3 370.7,398.3"/><polygon points="414.2,388.9 451.5,388.9 451.5,402.9 446.9,402.9 446.9,407.5 442.2,407.5 442.2,412.2 439.9,412.2 439.9,416.9 437.5,416.9 437.5,421.5 428.2,421.5 428.2,416.9 425.9,416.9 425.9,412.2 423.6,412.2 423.6,407.5 418.9,407.5 418.9,402.9 414.2,402.9"/><polygon points="457.8,388.9 495.1,388.9 495.1,402.9 490.4,402.9 490.4,407.5 485.8,407.5 485.8,412.2 483.4,412.2 483.4,416.9 481.1,416.9 481.1,421.5 471.8,421.5 471.8,416.9 469.5,416.9 469.5,412.2 467.1,412.2 467.1,407.5 462.5,407.5 462.5,402.9 457.8,402.9"/><polygon points="501.4,388.9 538.7,388.9 538.7,402.9 534,402.9 534,407.5 529.3,407.5 529.3,412.2 527,412.2 527,416.9 524.7,416.9 524.7,421.5 515.4,421.5 515.4,416.9 513,416.9 513,412.2 510.7,412.2 510.7,407.5 506,407.5 506,402.9 501.4,402.9"/><polygon points="545,388.9 582.2,388.9 582.2,402.9 577.6,402.9 577.6,407.5 572.9,407.5 572.9,412.2 570.6,412.2 570.6,416.9 568.2,416.9 568.2,421.5 558.9,421.5 558.9,416.9 556.6,416.9 556.6,412.2 554.3,412.2 554.3,407.5 549.6,407.5 549.6,402.9 545,402.9"/><polygon points="588.5,388.9 625.8,388.9 625.8,402.9 621.1,402.9 621.1,407.5 616.5,407.5 616.5,412.2 614.2,412.2 614.2,416.9 611.8,416.9 611.8,421.5 602.5,421.5 602.5,416.9 600.2,416.9 600.2,412.2 597.8,412.2 597.8,407.5 593.2,407.5 593.2,402.9 588.5,402.9"/><polygon points="632.1,388.9 669.4,388.9 669.4,402.9 664.7,402.9 664.7,407.5 660.1,407.5 660.1,412.2 657.7,412.2 657.7,416.9 655.4,416.9 655.4,421.5 646.1,421.5 646.1,416.9 643.7,416.9 643.7,412.2 641.4,412.2 641.4,407.5 636.8,407.5 636.8,402.9 632.1,402.9"/><polygon points="675.7,388.9 712.9,388.9 712.9,402.9 708.3,402.9 708.3,407.5 703.6,407.5 703.6,412.2 701.3,412.2 701.3,416.9 699,416.9 699,421.5 689.6,421.5 689.6,416.9 687.3,416.9 687.3,412.2 685,412.2 685,407.5 680.3,407.5 680.3,402.9 675.7,402.9"/><polygon points="719.2,388.9 756.5,388.9 756.5,402.9 751.9,402.9 751.9,407.5 747.2,407.5 747.2,412.2 744.9,412.2 744.9,416.9 742.5,416.9 742.5,421.5 733.2,421.5 733.2,416.9 730.9,416.9 730.9,412.2 728.5,412.2 728.5,407.5 723.9,407.5 723.9,402.9 719.2,402.9"/><polygon points="762.8,388.9 800.1,388.9 800.1,402.9 795.4,402.9 795.4,407.5 790.8,407.5 790.8,412.2 788.4,412.2 788.4,416.9 786.1,416.9 786.1,421.5 776.8,421.5 776.8,416.9 774.5,416.9 774.5,412.2 772.1,412.2 772.1,407.5 767.5,407.5 767.5,402.9 762.8,402.9"/><polygon points="806.4,389 843.6,389 843.6,403 839,403 839,407.6 834.3,407.6 834.3,412.3 832,412.3 832,417 829.7,417 829.7,421.6 820.4,421.6 820.4,417 818,417 818,412.3 815.7,412.3 815.7,407.6 811,407.6 811,403 806.4,403"/><polygon points="849.9,393.9 887.2,393.9 887.2,407.9 882.6,407.9 882.6,412.5 877.9,412.5 877.9,417.2 875.6,417.2 875.6,421.9 873.2,421.9 873.2,426.5 863.9,426.5 863.9,421.9 861.6,421.9 861.6,417.2 859.3,417.2 859.3,412.5 854.6,412.5 854.6,407.9 849.9,407.9"/><polygon points="893.5,393.9 930.8,393.9 930.8,407.9 926.1,407.9 926.1,412.5 921.5,412.5 921.5,417.2 919.1,417.2 919.1,421.9 916.8,421.9 916.8,426.5 907.5,426.5 907.5,421.9 905.2,421.9 905.2,417.2 902.8,417.2 902.8,412.5 898.2,412.5 898.2,407.9 893.5,407.9"/><polygon points="937.1,398.6 974.4,398.6 974.4,412.6 969.7,412.6 969.7,417.2 965,417.2 965,421.9 962.7,421.9 962.7,426.6 960.4,426.6 960.4,431.2 951.1,431.2 951.1,426.6 948.7,426.6 948.7,421.9 946.4,421.9 946.4,417.2 941.7,417.2 941.7,412.6 937.1,412.6"/><polygon points="980.7,403.1 1017.9,403.1 1017.9,417.1 1013.3,417.1 1013.3,421.7 1008.6,421.7 1008.6,426.4 1006.3,426.4 1006.3,431.1 1004,431.1 1004,435.7 994.6,435.7 994.6,431.1 992.3,431.1 992.3,426.4 990,426.4 990,421.7 985.3,421.7 985.3,417.1 980.7,417.1"/><polygon points="1024.2,407.7 1061.5,407.7 1061.5,421.7 1056.8,421.7 1056.8,426.3 1052.2,426.3 1052.2,431 1049.9,431 1049.9,435.7 1047.5,435.7 1047.5,440.3 1038.2,440.3 1038.2,435.7 1035.9,435.7 1035.9,431 1033.5,431 1033.5,426.3 1028.9,426.3 1028.9,421.7 1024.2,421.7"/><polygon points="1067.8,412.6 1105.1,412.6 1105.1,426.6 1100.4,426.6 1100.4,431.2 1095.8,431.2 1095.8,435.9 1093.4,435.9 1093.4,440.6 1091.1,440.6 1091.1,445.2 1081.8,445.2 1081.8,440.6 1079.4,440.6 1079.4,435.9 1077.1,435.9 1077.1,431.2 1072.5,431.2 1072.5,426.6 1067.8,426.6"/><polygon points="1111.4,426.2 1148.6,426.2 1148.6,440.2 1144,440.2 1144,444.8 1139.3,444.8 1139.3,449.5 1137,449.5 1137,454.2 1134.7,454.2 1134.7,458.8 1125.3,458.8 1125.3,454.2 1123,454.2 1123,449.5 1120.7,449.5 1120.7,444.8 1116,444.8 1116,440.2 1111.4,440.2"/><polygon points="1154.9,444.8 1192.2,444.8 1192.2,458.8 1187.6,458.8 1187.6,463.4 1182.9,463.4 1182.9,468.1 1180.6,468.1 1180.6,472.8 1178.2,472.8 1178.2,477.4 1168.9,477.4 1168.9,472.8 1166.6,472.8 1166.6,468.1 1164.3,468.1 1164.3,463.4 1159.6,463.4 1159.6,458.8 1154.9,458.8"/><polygon points="1198.5,463.1 1235.8,463.1 1235.8,477.1 1231.1,477.1 1231.1,481.7 1226.5,481.7 1226.5,486.4 1224.1,486.4 1224.1,491.1 1221.8,491.1 1221.8,495.7 1212.5,495.7 1212.5,491.1 1210.1,491.1 1210.1,486.4 1207.8,486.4 1207.8,481.7 1203.2,481.7 1203.2,477.1 1198.5,477.1"/><polygon points="1242.1,495.8 1279.4,495.8 1279.4,509.8 1274.7,509.8 1274.7,514.4 1270,514.4 1270,519.1 1267.7,519.1 1267.7,523.8 1265.4,523.8 1265.4,528.4 1256,528.4 1256,523.8 1253.7,523.8 1253.7,519.1 1251.4,519.1 1251.4,514.4 1246.7,514.4 1246.7,509.8 1242.1,509.8"/><polygon points="1285.6,532.8 1322.9,532.8 1322.9,546.8 1318.3,546.8 1318.3,551.4 1313.6,551.4 1313.6,556.1 1311.3,556.1 1311.3,560.8 1308.9,560.8 1308.9,565.4 1299.6,565.4 1299.6,560.8 1297.3,560.8 1297.3,556.1 1295,556.1 1295,551.4 1290.3,551.4 1290.3,546.8 1285.6,546.8"/><polygon points="1329.2,583.8 1366.5,583.8 1366.5,597.8 1361.8,597.8 1361.8,602.4 1357.2,602.4 1357.2,607.1 1354.8,607.1 1354.8,611.8 1352.5,611.8 1352.5,616.4 1343.2,616.4 1343.2,611.8 1340.9,611.8 1340.9,607.1 1338.5,607.1 1338.5,602.4 1333.9,602.4 1333.9,597.8 1329.2,597.8"/><polygon points="1372.8,635 1410.1,635 1410.1,649 1405.4,649 1405.4,653.6 1400.7,653.6 1400.7,658.3 1398.4,658.3 1398.4,663 1396.1,663 1396.1,667.6 1386.8,667.6 1386.8,663 1384.4,663 1384.4,658.3 1382.1,658.3 1382.1,653.6 1377.4,653.6 1377.4,649 1372.8,649"/><polygon points="1416.4,695.3 1453.6,695.3 1453.6,709.3 1449,709.3 1449,713.9 1444.3,713.9 1444.3,718.6 1442,718.6 1442,723.3 1439.7,723.3 1439.7,727.9 1430.3,727.9 1430.3,723.3 1428,723.3 1428,718.6 1425.7,718.6 1425.7,713.9 1421,713.9 1421,709.3 1416.4,709.3"/><polygon points="1459.9,769.4 1497.2,769.4 1497.2,783.4 1492.5,783.4 1492.5,788 1487.9,788 1487.9,792.7 1485.5,792.7 1485.5,797.4 1483.2,797.4 1483.2,802 1473.9,802 1473.9,797.4 1471.6,797.4 1471.6,792.7 1469.2,792.7 1469.2,788 1464.6,788 1464.6,783.4 1459.9,783.4"/><polygon points="1503.5,853.2 1540.8,853.2 1540.8,867.2 1536.1,867.2 1536.1,871.8 1531.5,871.8 1531.5,876.5 1529.1,876.5 1529.1,881.2 1526.8,881.2 1526.8,885.8 1517.5,885.8 1517.5,881.2 1515.1,881.2 1515.1,876.5 1512.8,876.5 1512.8,871.8 1508.2,871.8 1508.2,867.2 1503.5,867.2"/><polygon points="1547.1,941.3 1584.3,941.3 1584.3,955.3 1579.7,955.3 1579.7,959.9 1575,959.9 1575,964.6 1572.7,964.6 1572.7,969.3 1570.4,969.3 1570.4,973.9 1561,973.9 1561,969.3 1558.7,969.3 1558.7,964.6 1556.4,964.6 1556.4,959.9 1551.7,959.9 1551.7,955.3 1547.1,955.3"/><polygon points="1590.6,1044.2 1627.9,1044.2 1627.9,1058.2 1623.2,1058.2 1623.2,1062.8 1618.6,1062.8 1618.6,1067.5 1616.3,1067.5 1616.3,1072.2 1613.9,1072.2 1613.9,1076.8 1604.6,1076.8 1604.6,1072.2 1602.3,1072.2 1602.3,1067.5 1600,1067.5 1600,1062.8 1595.3,1062.8 1595.3,1058.2 1590.6,1058.2"/><polygon points="1634.2,1151 1671.5,1151 1671.5,1165 1666.8,1165 1666.8,1169.6 1662.2,1169.6 1662.2,1174.3 1659.8,1174.3 1659.8,1179 1657.5,1179 1657.5,1183.6 1648.2,1183.6 1648.2,1179 1645.9,1179 1645.9,1174.3 1643.5,1174.3 1643.5,1169.6 1638.9,1169.6 1638.9,1165 1634.2,1165"/><polygon points="1677.8,1266.6 1715,1266.6 1715,1280.6 1710.4,1280.6 1710.4,1285.2 1705.7,1285.2 1705.7,1289.9 1703.4,1289.9 1703.4,1294.6 1701.1,1294.6 1701.1,1299.2 1691.7,1299.2 1691.7,1294.6 1689.4,1294.6 1689.4,1289.9 1687.1,1289.9 1687.1,1285.2 1682.4,1285.2 1682.4,1280.6 1677.8,1280.6"/><polygon points="1721.3,1397.2 1758.6,1397.2 1758.6,1411.2 1754,1411.2 1754,1415.8 1749.3,1415.8 1749.3,1420.5 1747,1420.5 1747,1425.2 1744.6,1425.2 1744.6,1429.8 1735.3,1429.8 1735.3,1425.2 1733,1425.2 1733,1420.5 1730.7,1420.5 1730.7,1415.8 1726,1415.8 1726,1411.2 1721.3,1411.2"/></g>
</g>
<g fill="#000">
<rect x="258.2" y="161.1" width="4.5" height="1323.6"/>
<rect x="234.7" y="1457" width="1770.4" height="4.7"/>
<rect x="235" y="161" width="25" height="4.6"/>
<rect x="235" y="374.8" width="25" height="4.6"/>
<rect x="235" y="593.1" width="25" height="4.6"/>
<rect x="235" y="806.8" width="25" height="4.6"/>
<rect x="235" y="1024.4" width="25" height="4.6"/>
<rect x="235" y="1239.2" width="25" height="4.6"/>
<rect x="249" y="268.2" width="11" height="4.6"/>
<rect x="249" y="486.2" width="11" height="4.6"/>
<rect x="249" y="699.7" width="11" height="4.6"/>
<rect x="249" y="913.3" width="11" height="4.6"/>
<rect x="249" y="1131.7" width="11" height="4.6"/>
<rect x="249" y="1345.4" width="11" height="4.6"/>
<rect x="258.2" y="1459" width="4.6" height="25.7"/>
<rect x="695.1" y="1459" width="4.6" height="25.7"/>
<rect x="1131.9" y="1459" width="4.6" height="25.7"/>
<rect x="1563.9" y="1459" width="4.6" height="25.7"/>
<rect x="2000.8" y="1459" width="4.6" height="25.7"/>
<rect x="476.3" y="1459" width="4.6" height="11.6"/>
<rect x="913" y="1459" width="4.6" height="11.6"/>
<rect x="1349.8" y="1459" width="4.6" height="11.6"/>
<rect x="1781.8" y="1459" width="4.6" height="11.6"/>
</g>
<g class="san" font-size="58" fill="#000" text-anchor="end">
<text x="221" y="175.6">12</text>
<text x="221" y="393.3">10</text>
<text x="221" y="606.7">8</text>
<text x="221" y="825.2">6</text>
<text x="221" y="1038.5">4</text>
<text x="221" y="1252.5">2</text>
<text x="221" y="1470.5">0</text>
</g>
<g class="san" font-size="58" fill="#000" text-anchor="middle">
<text x="261" y="1540.5">0.0</text>
<text x="697.9" y="1540.5">0.2</text>
<text x="1131.4" y="1540.5">0.4</text>
<text x="1566.8" y="1540.5">0.6</text>
<text x="2003.7" y="1540.5">0.8</text>
</g>
<text class="ser" font-size="69" fill="#000" y="1646.8"><tspan x="964">V</tspan><tspan x="1017.5" textLength="161" lengthAdjust="spacingAndGlyphs">oltage</tspan><tspan x="1196">(</tspan><tspan x="1221">V</tspan><tspan x="1270">)</tspan></text>
<g transform="translate(105,1224.5) rotate(-90)"><text class="san" font-size="64" fill="#000" x="0" y="0"><tspan textLength="686" lengthAdjust="spacingAndGlyphs">Current density (mA/cm</tspan></text><text class="san" font-size="54" fill="#000" x="692" y="-29" textLength="20" lengthAdjust="spacingAndGlyphs">2</text><text class="san" font-size="72" fill="#000" x="716" y="0">)</text></g>
<rect x="1447.6" y="82.4" width="148.9" height="4.6" fill="#000"/>
<rect x="1503.3" y="73" width="32.6" height="28" fill="#000"/>
<rect x="1443" y="175.2" width="148.9" height="4.7" fill="#f00"/>
<g fill="#f00"><polygon points="1512.6,161.1 1526.6,161.1 1526.6,165.8 1531.2,165.8 1531.2,170.4 1535.9,170.4 1535.9,184.4 1531.2,184.4 1531.2,189.1 1526.6,189.1 1526.6,193.7 1512.6,193.7 1512.6,189.1 1507.9,189.1 1507.9,184.4 1503.3,184.4 1503.3,170.4 1507.9,170.4 1507.9,165.8 1512.6,165.8"/></g>
<rect x="1443" y="268" width="149" height="4.7" fill="#00f"/>
<g fill="#00f"><polygon points="1517.5,249.2 1522.1,249.2 1522.1,253.9 1526.8,253.9 1526.8,258.5 1531.5,258.5 1531.5,272.5 1536.1,272.5 1536.1,277.2 1540.8,277.2 1540.8,281.8 1498.8,281.8 1498.8,277.2 1503.5,277.2 1503.5,272.5 1508.1,272.5 1508.1,263.2 1512.8,263.2 1512.8,253.9 1517.5,253.9"/></g>
<rect x="1448" y="356.3" width="148.2" height="4.7" fill="#f0f"/>
<g fill="#f0f"><polygon points="1503.6,347.2 1540.8,347.2 1540.8,361.2 1531.5,361.2 1531.5,370.5 1526.9,370.5 1526.9,379.8 1522.2,379.8 1522.2,384.5 1517.5,384.5 1517.5,375.2 1512.9,375.2 1512.9,370.5 1508.2,370.5 1508.2,361.2 1503.6,361.2"/></g>
<g class="ser" font-size="69" fill="#000">
<text y="105.2"><tspan x="1610.5">(1)</tspan><tspan x="1701.8">1</tspan><tspan x="1785">(0.64</tspan><tspan x="1945.3" textLength="76" lengthAdjust="spacingAndGlyphs">cm</tspan><tspan x="2023.7" y="72.5" font-size="46">2</tspan><tspan x="2046.6" y="105.2">)</tspan></text>
<text y="197.8"><tspan x="1610.5">(2)</tspan><tspan x="1701.8">1</tspan><tspan x="1785">(6.84</tspan><tspan x="1945.3" textLength="76" lengthAdjust="spacingAndGlyphs">cm</tspan><tspan x="2023.7" y="165.1" font-size="46">2</tspan><tspan x="2046.6" y="197.8">)</tspan></text>
<text y="291"><tspan x="1611.6">(3)</tspan><tspan x="1702.7">2P</tspan><tspan x="1791">(3.42</tspan><tspan x="1952.8" textLength="76" lengthAdjust="spacingAndGlyphs">cm</tspan><tspan x="2028" y="257.7" font-size="46">2</tspan><tspan x="2046.8" y="291">)</tspan></text>
<text y="378.6"><tspan x="1611.6">(4)</tspan><tspan x="1702.7">2P-grid</tspan><tspan x="1922.5">(3.42</tspan><tspan x="2081.5" textLength="76" lengthAdjust="spacingAndGlyphs">cm</tspan><tspan x="2158" y="345.9" font-size="46">2</tspan><tspan x="2177" y="378.6">)</tspan></text>
</g>
</svg>
</body></html>
